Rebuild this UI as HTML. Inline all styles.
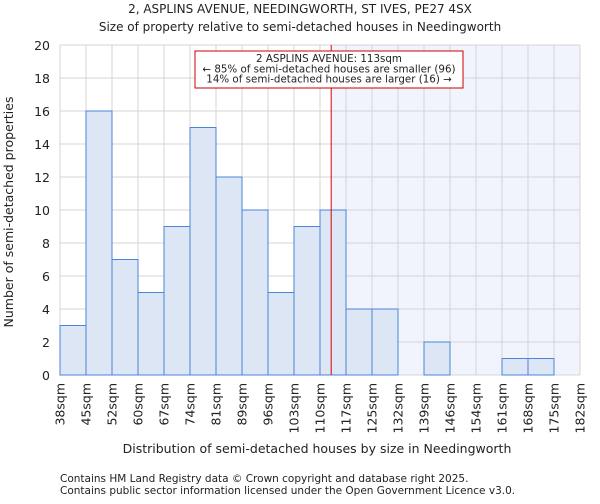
<!DOCTYPE html>
<html><head><meta charset="utf-8"><style>
body{margin:0;background:#fff;font-family:"DejaVu Sans","Liberation Sans",sans-serif}
svg text{font-family:"DejaVu Sans","Liberation Sans",sans-serif;fill:#222}
</style></head><body>
<svg id="c" width="600" height="500">
<text x="300" y="13" font-size="12" text-anchor="middle">2, ASPLINS AVENUE, NEEDINGWORTH, ST IVES, PE27 4SX</text>
<text x="300" y="31" font-size="12" text-anchor="middle">Size of property relative to semi-detached houses in Needingworth</text>
<g id="grid"></g><g id="bars"></g><g id="axes"></g>
<text x="317" y="453" font-size="12.5" text-anchor="middle">Distribution of semi-detached houses by size in Needingworth</text>
<text transform="translate(13,212) rotate(-90)" font-size="12.5" text-anchor="middle">Number of semi-detached properties</text>
<text x="60" y="482" font-size="10.5" fill="#444">Contains HM Land Registry data © Crown copyright and database right 2025.</text>
<text x="60" y="494" font-size="10.5" fill="#444">Contains public sector information licensed under the Open Government Licence v3.0.</text>
</svg>
<script>
const categories=["38sqm","45sqm","52sqm","60sqm","67sqm","74sqm","81sqm","89sqm","96sqm","103sqm","110sqm","117sqm","125sqm","132sqm","139sqm","146sqm","154sqm","161sqm","168sqm","175sqm","182sqm"];
const counts=[3,16,7,5,9,15,12,10,5,9,10,4,4,0,2,0,0,1,1,0];
const yTicks=[0,2,4,6,8,10,12,14,16,18,20];
const propertyPos=10.43;
const NS="http://www.w3.org/2000/svg";
const L=60,R=580,T=45,B=375,bw=(R-L)/counts.length;
const x=i=>L+i*bw, y=v=>B-(B-T)*v/20;
function mk(p,tag,a){const e=document.createElementNS(NS,tag);for(const k in a)e.setAttribute(k,a[k]);p.appendChild(e);return e;}
const g=document.getElementById('grid'),b=document.getElementById('bars'),ax=document.getElementById('axes');
let sh=mk(g,'rect',{x:x(propertyPos),y:T,width:R-x(propertyPos),height:B-T,fill:'#f1f4fd'});


for(let i=0;i<=counts.length;i++){let l=mk(g,'line',{x1:x(i),x2:x(i),y1:T,y2:B,stroke:'#d4d4d4','stroke-width':1});

}
yTicks.forEach(v=>{let l=mk(g,'line',{x1:L,x2:R,y1:y(v),y2:y(v),stroke:'#d4d4d4','stroke-width':1});


let t=mk(ax,'text',{x:50,y:y(v)+5,'font-size':12.5,'text-anchor':'end'});t.textContent=v;

});
counts.forEach((c,i)=>{if(!c)return;let r=mk(b,'rect',{x:x(i),y:y(c),width:bw,height:B-y(c),fill:'#dce6f5',stroke:'#4a86d8','stroke-width':1});

});
categories.forEach((c,i)=>{let t=mk(ax,'text',{transform:`translate(${x(i)+4.5},383) rotate(-90)`,'font-size':12.5,'text-anchor':'end'});t.textContent=c;

});
let ln=mk(ax,'line',{x1:x(propertyPos),x2:x(propertyPos),y1:T,y2:B,stroke:'#d00','stroke-width':1});


let bx=mk(ax,'rect',{x:195,y:51,width:268,height:37,fill:'#fff',stroke:'#c00','stroke-width':1});


["2 ASPLINS AVENUE: 113sqm","← 85% of semi-detached houses are smaller (96)","14% of semi-detached houses are larger (16) →"].forEach((s,k)=>{let t=mk(ax,'text',{x:329,y:62+k*10.3,'font-size':10.3,'text-anchor':'middle'});t.textContent=s;

});
</script>
</body></html>
